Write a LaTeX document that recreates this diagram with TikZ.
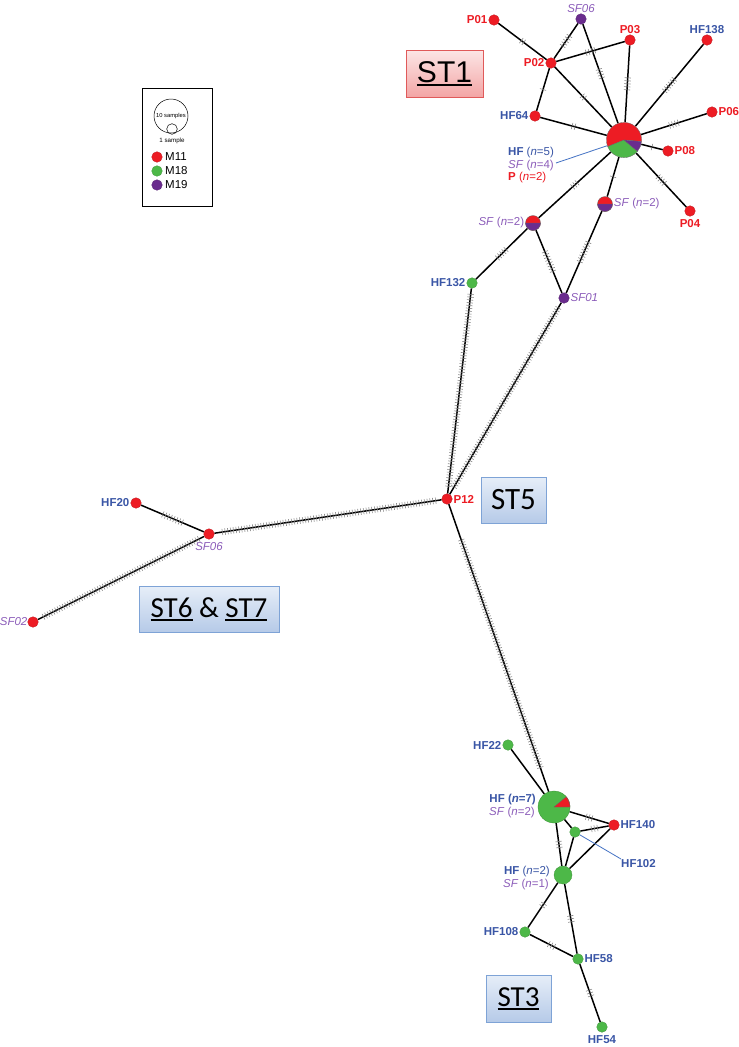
\documentclass[tikz,border=0pt]{standalone}
\usepackage{fontspec}
\setmainfont{Liberation Sans}
\newfontfamily\boxfont{Carlito}
\usetikzlibrary{decorations.markings,backgrounds}
\definecolor{cR}{HTML}{ED1C24}
\definecolor{cG}{HTML}{4DB848}
\definecolor{cP}{HTML}{6A2C8E}
\definecolor{tB}{HTML}{3A56A6}
\definecolor{tP}{HTML}{8C5DBA}
\definecolor{lead}{HTML}{4472C4}
\definecolor{bxB}{HTML}{7EA3D6}
\definecolor{bxT}{HTML}{E6EEF8}
\definecolor{bxBo}{HTML}{B6CAE8}
\definecolor{rxB}{HTML}{E05A5A}
\definecolor{rxT}{HTML}{FCE6E6}
\definecolor{rxBo}{HTML}{F3A5A5}
\newcommand\stul[1]{\setbox0\hbox{#1}\rlap{\rule[-3.6pt]{\wd0}{1.6pt}}\box0\relax}
\newcommand\sfn[1]{SF \textup{(}n\textup{=#1)}}
\newcommand\hfn[1]{HF \textmd{(\textit{n}=#1)}}
\newcommand\pn[1]{P \textmd{(\textit{n}=#1)}}
\tikzset{
  smp/.style={circle,inner sep=0pt,minimum size=10.6pt,fill=#1,draw=#1!80!black,line width=0.3pt},
  pienode/.style={circle,inner sep=0pt,minimum size=#1},
  ln/.style={line width=1.5pt,black},
  tk/.style={draw=black!50,line width=0.55pt},
  mut/.style={postaction={decorate,decoration={markings,mark=at position 0.5 with {\foreach \k in {1,...,#1}{\draw[tk] ({(\k-(#1+1)/2)*3pt},-3.2pt) -- ({(\k-(#1+1)/2)*3pt},3.2pt);}}}}},
  dense/.style={postaction={decorate,decoration={markings,mark=between positions 6pt and -6pt step 2.8pt with {\draw[tk] (0,-3.2pt) -- (0,3.2pt);}}}},
  densep/.style={postaction={decorate,decoration={markings,mark=between positions 38pt and -24pt step 2.8pt with {\draw[tk] (0,-3.2pt) -- (0,3.2pt);}}}},
  hfl/.style={font=\bfseries\fontsize{11.5}{12}\selectfont,text=tB,inner sep=1pt},
  pl/.style={font=\bfseries\fontsize{11.5}{12}\selectfont,text=cR,inner sep=1pt},
  sfl/.style={font=\itshape\fontsize{11.5}{12}\selectfont,text=tP,inner sep=1pt},
  leadln/.style={draw=lead,line width=0.8pt},
  stbox/.style={draw=bxB,line width=1pt,top color=bxT,bottom color=bxBo,font=\boxfont\fontsize{29}{30}\selectfont,inner sep=0pt},
  wedge/.style={draw=black!60,line width=0.3pt}
}
\begin{document}
\begin{tikzpicture}[x=1pt,y=-1pt]
\useasboundingbox (0,0) rectangle (739,1047);
% legend
\node[draw,line width=1pt,minimum width=70pt,minimum height=118pt,inner sep=0pt] (legend) at (177,147) {};
\node[circle,draw,line width=0.5pt,minimum size=34pt,inner sep=0pt,font=\fontsize{5.8}{6}\selectfont] (leg10) at (171,116) {10 samples};
\node[circle,draw,line width=0.5pt,minimum size=10.6pt,inner sep=0pt] (leg1) at (172,129) {};
\node[font=\fontsize{6.2}{6}\selectfont,inner sep=0pt] (leg1t) at (172,141) {1 sample};
\node[smp=cR] (legR) at (157,157) {};
\node[smp=cG] (legG) at (157,171) {};
\node[smp=cP] (legP) at (157,185) {};
\node[anchor=west,font=\fontsize{11.5}{12}\selectfont,inner sep=0pt] (legRt) at (165,157) {M11};
\node[anchor=west,font=\fontsize{11.5}{12}\selectfont,inner sep=0pt] (legGt) at (165,171) {M18};
\node[anchor=west,font=\fontsize{11.5}{12}\selectfont,inner sep=0pt] (legPt) at (165,185) {M19};
% boxes
\node[stbox,draw=rxB,top color=rxT,bottom color=rxBo,font=\fontsize{30}{32}\selectfont,minimum width=77pt,minimum height=47pt] (st1) at (444.5,73.5) {\stul{ST1}};
\node[stbox,font=\boxfont\fontsize{31}{32}\selectfont,minimum width=65pt,minimum height=46pt] (st5) at (513.5,500) {ST5};
\node[stbox,minimum width=140pt,minimum height=46pt] (st67) at (209,609) {\stul{ST6} \& \stul{ST7}};
\node[stbox,minimum width=65pt,minimum height=47pt] (st3) at (518.5,998.5) {\stul{ST3}};
% nodes
\node[smp=cR,label={[pl]left:P01}] (p01) at (494,20) {};
\node[smp=cP,label={[sfl]above:SF06}] (sf06a) at (581,19) {};
\node[smp=cR,label={[pl]above:P03}] (p03) at (630,40) {};
\node[smp=cR,label={[hfl]above:HF138}] (hf138) at (707,40) {};
\node[smp=cR,label={[pl]left:P02}] (p02) at (551,63) {};
\node[smp=cR,label={[hfl]left:HF64}] (hf64) at (535,116) {};
\node[pienode=35.2pt] (big1) at (624,140) {};
\node[smp=cR,label={[pl]right:P06}] (p06) at (712,112) {};
\node[smp=cR,label={[pl]right:P08}] (p08) at (668,151) {};
\node[smp=cR,label={[pl,label distance=2pt]below:P04}] (p04) at (690,211) {};
\node[pienode=15pt,label={[sfl]right:\sfn{2}}] (sfr) at (605,204) {};
\node[pienode=15pt,label={[sfl]left:\sfn{2}}] (sfl) at (533,223) {};
\node[smp=cG,label={[hfl]left:HF132}] (hf132) at (472,283) {};
\node[smp=cP,label={[sfl]right:SF01}] (sf01) at (564,298) {};
\node[smp=cR,label={[pl]right:P12}] (p12) at (447,499) {};
\node[smp=cR,label={[hfl]left:HF20}] (hf20) at (136,503) {};
\node[smp=cR,label={[sfl,label distance=2pt]below:SF06}] (sf06b) at (209,534) {};
\node[smp=cR,label={[sfl,label distance=-1pt]left:SF02}] (sf02) at (33,622) {};
\node[pienode=32pt] (big2) at (554,807) {};
\node[smp=cG,label={[hfl]left:HF22}] (hf22) at (508,745) {};
\node[smp=cR,label={[hfl]right:HF140}] (hf140) at (614,825) {};
\node[smp=cG] (hf102) at (575,832) {};
\node[smp=cG,minimum size=18pt] (hfn2) at (563,875) {};
\node[smp=cG,label={[hfl]left:HF108}] (hf108) at (525,932) {};
\node[smp=cG,label={[hfl]right:HF58}] (hf58) at (578,959) {};
\node[smp=cG,label={[hfl,label distance=2pt]below:HF54}] (hf54) at (602,1027) {};
% pies
\fill[cR,wedge] (big1.center) -- ++(5:17.6) arc[start angle=5,end angle=-202,radius=17.6] -- cycle;
\fill[cG,wedge] (big1.center) -- ++(-202:17.6) arc[start angle=-202,end angle=-320,radius=17.6] -- cycle;
\fill[cP,wedge] (big1.center) -- ++(-320:17.6) arc[start angle=-320,end angle=-355,radius=17.6] -- cycle;
\fill[cR,wedge] (sfr.center) circle[radius=7.5];
\fill[cP,wedge] (sfr.center) -- ++(0:7.5) arc[start angle=0,end angle=180,radius=7.5] -- cycle;
\fill[cR,wedge] (sfl.center) circle[radius=7.5];
\fill[cP,wedge] (sfl.center) -- ++(0:7.5) arc[start angle=0,end angle=180,radius=7.5] -- cycle;
\fill[cG,draw=cG!80!black,line width=0.3pt] (big2.center) circle[radius=16];
\fill[cR,wedge] (big2.center) -- ++(0:16) arc[start angle=0,end angle=-40,radius=16] -- cycle;
% group labels
\node[hfl,anchor=west,inner sep=0pt] (t1a) at (508,153) {\hfn{5}};
\node[sfl,anchor=west,inner sep=0pt] (t1b) at (508,165.5) {\sfn{4}};
\node[pl,anchor=west,inner sep=0pt] (t1c) at (508,178) {\pn{2}};
\coordinate (lead1) at (556,163);
\draw[leadln] (lead1) -- (big1);
\node[hfl,anchor=east,inner sep=0pt] (t2a) at (536,800) {HF (\textit{n}=7)};
\node[sfl,anchor=east,inner sep=0pt] (t2b) at (535,812.5) {\sfn{2}};
\node[hfl,anchor=east,inner sep=0pt] (t3a) at (550,872) {\hfn{2}};
\node[sfl,anchor=east,inner sep=0pt] (t3b) at (549,885) {\sfn{1}};
\node[hfl,anchor=north west,inner sep=0pt] (t102) at (621,859) {HF102};
\draw[leadln] (hf102) -- (t102.north west);
% edges
\begin{scope}[on background layer]
\fill[white] (0,0) rectangle (739,1047);
\draw[ln,mut=2] (p01) -- (p02);
\draw[ln,mut=5] (sf06a) -- (p02);
\draw[ln,mut=4] (sf06a) -- (big1);
\draw[ln,mut=4] (p02) -- (p03);
\draw[ln,mut=5] (p03) -- (big1);
\draw[ln,mut=2] (p02) -- (big1);
\draw[ln,mut=1] (p02) -- (hf64);
\draw[ln,mut=2] (hf64) -- (big1);
\draw[ln,mut=6] (hf138) -- (big1);
\draw[ln,mut=4] (p06) -- (big1);
\draw[ln,mut=1] (p08) -- (big1);
\draw[ln,mut=4] (big1) -- (p04);
\draw[ln,mut=1] (big1) -- (sfr);
\draw[ln,mut=3] (big1) -- (sfl);
\draw[ln,mut=5] (sfl) -- (hf132);
\draw[ln,mut=8] (sfl) -- (sf01);
\draw[ln,mut=8] (sfr) -- (sf01);
\draw[ln,dense] (hf132) -- (p12);
\draw[ln,dense] (sf01) -- (p12);
\draw[ln,dense] (p12) -- (sf06b);
\draw[ln,mut=8] (sf06b) -- (hf20);
\draw[ln,dense] (sf06b) -- (sf02);
\draw[ln,densep] (p12) -- (big2);
\draw[ln] (hf22) -- (big2);
\draw[ln,mut=3] (big2) -- (hf140);
\draw[ln,mut=3] (hf102) -- (hf140);
\draw[ln] (big2) -- (hf102);
\draw[ln,mut=3] (big2) -- (hfn2);
\draw[ln] (hf102) -- (hfn2);
\draw[ln] (hf140) -- (hfn2);
\draw[ln,mut=2] (hfn2) -- (hf108);
\draw[ln,mut=3] (hfn2) -- (hf58);
\draw[ln,mut=3] (hf108) -- (hf58);
\draw[ln,mut=3] (hf58) -- (hf54);
\end{scope}
\end{tikzpicture}
\end{document}
